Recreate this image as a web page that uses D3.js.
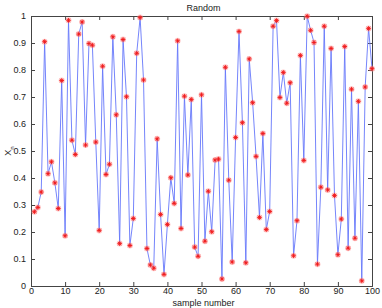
<!DOCTYPE html>
<html><head><meta charset="utf-8">
<script src="https://cdn.jsdelivr.net/npm/d3@7"></script>
<style>body{margin:0;background:#fff}svg{display:block}text{font-family:"Liberation Sans",Arial,sans-serif}</style>
</head><body><svg id="c" width="382" height="308"></svg>
<script>
const samples = d3.range(1, 101);
const values = [
0.275,0.291,0.348,0.905,0.416,0.460,0.382,0.287,0.761,0.186,
0.984,0.540,0.487,0.933,0.978,0.522,0.898,0.892,0.533,0.206,
0.814,0.413,0.451,0.923,0.634,0.157,0.913,0.701,0.150,0.250,
0.862,0.994,0.763,0.139,0.078,0.066,0.545,0.265,0.043,0.228,
0.401,0.306,0.908,0.213,0.703,0.411,0.691,0.144,0.110,0.708,
0.166,0.351,0.201,0.467,0.470,0.026,0.810,0.392,0.089,0.550,
0.943,0.605,0.086,0.841,0.679,0.480,0.254,0.565,0.209,0.276,
0.962,0.983,0.698,0.791,0.677,0.753,0.112,0.242,0.854,0.465,
0.999,0.947,0.902,0.081,0.366,0.962,0.356,0.880,0.335,0.116,
0.248,0.887,0.140,0.729,0.177,0.684,0.019,0.737,0.954,0.805];
const xTicks = d3.range(0, 101, 10);
const yTicks = d3.range(0, 11).map(i => i / 10);
const title = "Random", xLabel = "sample number";

const L = 31, R = 372, T = 16, B = 286;
const svg = d3.select("#c");
const x = d3.scaleLinear().domain([0, 100]).range([L, R]);
const y = d3.scaleLinear().domain([0, 1]).range([B, T]);
const fmt = d => d === 0 ? "0" : (Number.isInteger(d) ? String(d) : d.toFixed(1));

// axes with inward ticks
const axB = svg.append("g").attr("transform", `translate(0,${B})`)
  .call(d3.axisBottom(x).tickValues(xTicks).tickSize(-4).tickPadding(2).tickFormat(fmt));
const axT = svg.append("g").attr("transform", `translate(0,${T})`)
  .call(d3.axisTop(x).tickValues(xTicks).tickSize(-4).tickFormat(""));
const axL = svg.append("g").attr("transform", `translate(${L},0)`)
  .call(d3.axisLeft(y).tickValues(yTicks).tickSize(-4).tickPadding(5).tickFormat(fmt));
const axR = svg.append("g").attr("transform", `translate(${R},0)`)
  .call(d3.axisRight(y).tickValues(yTicks).tickSize(-4).tickFormat(""));
[axB, axT, axL, axR].forEach(g => {
  g.select(".domain").attr("stroke", "#444").attr("stroke-width", 1);
  g.selectAll(".tick line").attr("stroke", "#444");
  g.selectAll("text").attr("font-size", 9).attr("fill", "#222")
   .style("font-family", "'Liberation Sans', Arial, sans-serif");
});

const data = samples.map((s, i) => [s, values[i]]);
svg.append("path").datum(data)
  .attr("fill", "none").attr("stroke", "#6577fb").attr("stroke-width", 0.9)
  .attr("d", d3.line().x(d => x(d[0])).y(d => y(d[1])));

const m = svg.append("g").selectAll("g").data(data).join("g")
  .attr("transform", d => `translate(${x(d[0])},${y(d[1])})`);
m.append("circle").attr("r", 3).attr("fill", "#ff8a8a").attr("opacity", 0.5);
m.append("path").attr("d", "M-2.3,0H2.3M0,-2.3V2.3M-1.6,-1.6L1.6,1.6M-1.6,1.6L1.6,-1.6")
  .attr("stroke", "#f01818").attr("stroke-width", 0.9);

svg.append("text").attr("x", (L + R) / 2 + 2).attr("y", 11).attr("text-anchor", "middle")
  .attr("font-size", 9).attr("fill", "#222").text(title);
svg.append("text").attr("x", (L + R) / 2 + 2).attr("y", 306).attr("text-anchor", "middle")
  .attr("font-size", 9).attr("fill", "#222").text(xLabel);
const yl = svg.append("text").attr("transform", `translate(11,${(T + B) / 2}) rotate(-90)`)
  .attr("text-anchor", "middle").attr("font-size", 9).attr("fill", "#222");
yl.append("tspan").text("X");
yl.append("tspan").attr("font-size", 6).attr("dy", 3).text("n");
</script></body></html>
